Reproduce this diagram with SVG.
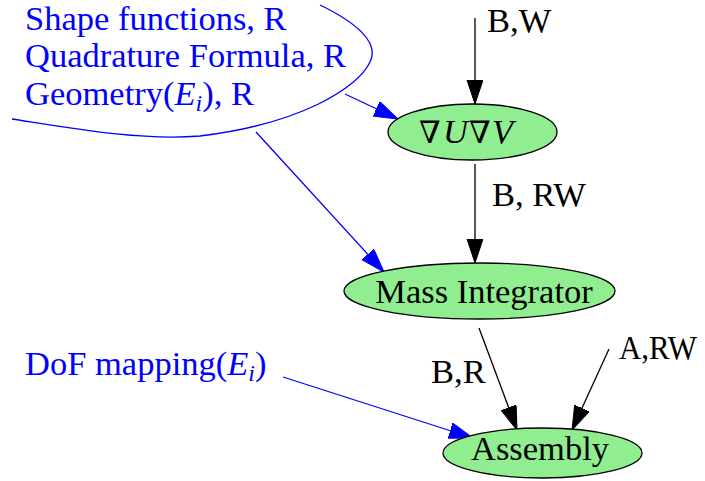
<svg xmlns="http://www.w3.org/2000/svg" width="705" height="481" viewBox="0 0 705 481">
  <style>
    text { font-family: "Liberation Serif", "DejaVu Serif", serif; font-size: 34.5px; }
    .in { fill: #0000ff; }
    .lbl { fill: #000000; }
    .node ellipse { fill: #90ee90; stroke: #000000; stroke-width: 1.3; }
    .edge { fill: none; stroke: #000000; stroke-width: 1.3; marker-end: url(#ah-black); }
    .edge-in { fill: none; stroke: #0000ff; stroke-width: 1.3; marker-end: url(#ah-blue); }
    .sub { font-style: italic; font-size: 24px; }
    .nabla { font-size: 31px; }
  </style>
  <defs>
    <marker id="ah-black" markerUnits="userSpaceOnUse" markerWidth="26" markerHeight="18" refX="24" refY="8" orient="auto">
      <path d="M0,0 L24,8 L0,16 z" fill="#000000" stroke="#000000" stroke-width="1"/>
    </marker>
    <marker id="ah-blue" markerUnits="userSpaceOnUse" markerWidth="26" markerHeight="18" refX="24" refY="8" orient="auto">
      <path d="M0,0 L24,8 L0,16 z" fill="#0000ff" stroke="#0000ff" stroke-width="1"/>
    </marker>
  </defs>

  <!-- input annotations -->
  <g id="inputs">
    <path d="M320,5 C355,22 380,42 370,62 C358,88 300,124 200,136 C140,141 70,128 12,119" fill="none" stroke="#0000ff" stroke-width="1.3"/>
    <text class="in" x="25" y="30">Shape functions, R</text>
    <text class="in" x="25" y="67">Quadrature Formula, R</text>
    <text class="in" x="25" y="105">Geometry(<tspan font-style="italic">E</tspan><tspan class="sub" dy="6">i</tspan><tspan dy="-6">), R</tspan></text>
    <text class="in" x="25" y="375">DoF mapping(<tspan font-style="italic">E</tspan><tspan class="sub" dy="6">i</tspan><tspan dy="-6">)</tspan></text>
  </g>

  <!-- connectors -->
  <g id="edges">
    <line class="edge" x1="475" y1="18" x2="475" y2="104"/>
    <line class="edge" x1="475" y1="164" x2="475" y2="263"/>
    <line class="edge" x1="479" y1="328" x2="517" y2="430"/>
    <line class="edge" x1="609" y1="349" x2="572" y2="430"/>
    <line class="edge-in" x1="345" y1="94" x2="398" y2="119"/>
    <line class="edge-in" x1="256" y1="132" x2="384" y2="272"/>
    <line class="edge-in" x1="283" y1="377" x2="473" y2="438"/>
    <text class="lbl" x="487" y="32">B,W</text>
    <text class="lbl" x="492" y="206">B, RW</text>
    <text class="lbl" x="431" y="383">B,R</text>
    <text class="lbl" x="619" y="359" textLength="78" lengthAdjust="spacingAndGlyphs">A,RW</text>
  </g>

  <g id="grad" class="node">
    <ellipse cx="472.5" cy="132" rx="84.5" ry="28"/>
    <text y="143"><tspan class="nabla" x="419">∇</tspan><tspan font-style="italic" x="443">U</tspan><tspan class="nabla" x="469">∇</tspan><tspan font-style="italic" x="492">V</tspan></text>
  </g>

  <g id="mass" class="node">
    <ellipse cx="479.5" cy="291" rx="135.5" ry="28"/>
    <text x="484" y="303" text-anchor="middle">Mass Integrator</text>
  </g>

  <g id="assembly" class="node">
    <ellipse cx="542.5" cy="453" rx="99.5" ry="25"/>
    <text x="540" y="460" text-anchor="middle">Assembly</text>
  </g>
</svg>
